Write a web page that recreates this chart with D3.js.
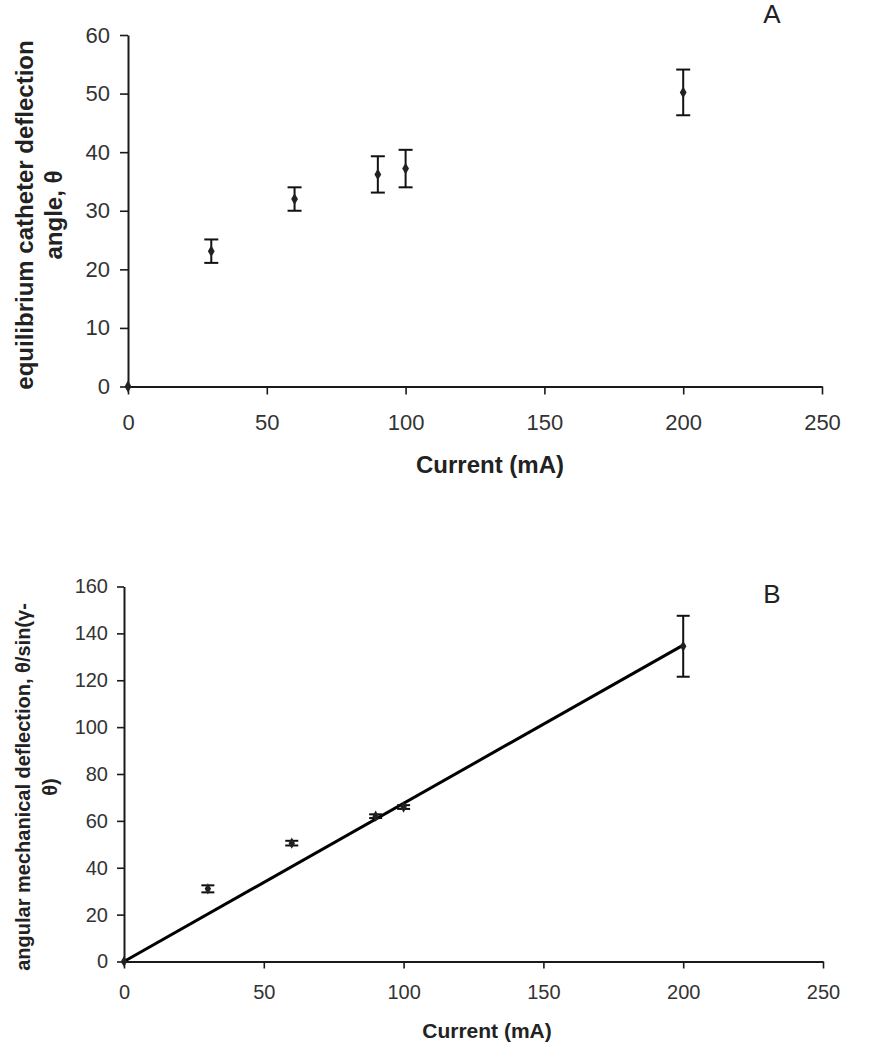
<!DOCTYPE html>
<html>
<head>
<meta charset="utf-8">
<script src="https://cdn.jsdelivr.net/npm/d3@7/dist/d3.min.js"></script>
<style>
  html, body { margin: 0; padding: 0; background: #fff; }
  svg { display: block; font-family: "Liberation Sans", Arial, sans-serif; }
</style>
</head>
<body>
<svg id="chart" width="884" height="1050"></svg>
<script>
// ---- Data: panel A ----
const currentA = [0, 30, 60, 90, 100, 200];
const angleA = [0, 23.1, 32.0, 36.2, 37.2, 50.2];
const angleErrA = [0, 2.0, 2.0, 3.1, 3.2, 3.9];
const xTicksA = [0, 50, 100, 150, 200, 250];
const yTicksA = [0, 10, 20, 30, 40, 50, 60];

// ---- Data: panel B ----
const currentB = [0, 30, 60, 90, 100, 200];
const deflB = [0, 31.0, 50.5, 62.0, 65.9, 134.5];
const deflErrB = [0, 1.5, 1.0, 0.8, 0.8, 13.0];
const trendSlopeB = 0.675;
const trendRangeB = [0, 200];
const xTicksB = [0, 50, 100, 150, 200, 250];
const yTicksB = [0, 20, 40, 60, 80, 100, 120, 140, 160];

const svg = d3.select("#chart");
const axisColor = "#1a1a1a";
const labelColor = "#333";

function drawPanel(cfg) {
  const g = svg.append("g");
  const x = d3.scaleLinear().domain([0, 250]).range(cfg.xRange);
  const y = d3.scaleLinear().domain(cfg.yDomain).range(cfg.yRange);

  // axes
  const yAxis = d3.axisLeft(y).tickValues(cfg.yTicks).tickSize(cfg.tick).tickSizeOuter(0).tickPadding(cfg.yPad);
  const xAxis = d3.axisBottom(x).tickValues(cfg.xTicks).tickSize(cfg.tick).tickSizeOuter(0).tickPadding(cfg.xPad);

  const gy = g.append("g").attr("transform", `translate(${cfg.xRange[0]},0)`).call(yAxis);
  const gx = g.append("g").attr("transform", `translate(0,${cfg.yRange[0]})`).call(xAxis);
  [gx, gy].forEach(a => {
    a.select(".domain").attr("stroke", axisColor).attr("stroke-width", 2);
    a.selectAll(".tick line").attr("stroke", axisColor).attr("stroke-width", 1.6);
    a.selectAll(".tick text").attr("fill", labelColor).attr("font-size", cfg.tickFont)
      .attr("font-family", '"Liberation Sans", Arial, sans-serif');
  });

  // trend line
  if (cfg.trend) {
    g.append("line")
      .attr("x1", x(cfg.trend.range[0])).attr("y1", y(cfg.trend.range[0] * cfg.trend.slope))
      .attr("x2", x(cfg.trend.range[1])).attr("y2", y(cfg.trend.range[1] * cfg.trend.slope))
      .attr("stroke", "#000").attr("stroke-width", 3);
  }

  // error bars
  const pts = cfg.xs.map((v, i) => ({ x: v, y: cfg.ys[i], e: cfg.errs[i] }));
  const eb = g.append("g").selectAll("g").data(pts.filter(d => d.e > 0)).join("g");
  eb.append("line")
    .attr("x1", d => x(d.x)).attr("x2", d => x(d.x))
    .attr("y1", d => y(d.y - d.e)).attr("y2", d => y(d.y + d.e))
    .attr("stroke", "#111").attr("stroke-width", 2);
  [-1, 1].forEach(s => {
    eb.append("line")
      .attr("x1", d => x(d.x) - cfg.cap).attr("x2", d => x(d.x) + cfg.cap)
      .attr("y1", d => y(d.y + s * d.e)).attr("y2", d => y(d.y + s * d.e))
      .attr("stroke", "#111").attr("stroke-width", 2);
  });

  // diamond markers
  const diamond = d3.symbol().type(d3.symbolDiamond).size(cfg.marker);
  g.append("g").selectAll("path").data(pts).join("path")
    .attr("d", diamond)
    .attr("transform", d => `translate(${x(d.x)},${y(d.y)})`)
    .attr("fill", "#222");

  // x title
  g.append("text").attr("x", cfg.xTitlePos[0]).attr("y", cfg.xTitlePos[1])
    .attr("text-anchor", "middle").attr("font-weight", "bold").attr("font-size", cfg.xTitleFont)
    .attr("fill", "#222").text("Current (mA)");

  // y title (two lines, rotated)
  cfg.yTitle.forEach((t, i) => {
    g.append("text")
      .attr("transform", `translate(${cfg.yTitleX[i]},${cfg.yTitleY}) rotate(-90)`)
      .attr("text-anchor", "middle").attr("font-weight", "bold").attr("font-size", cfg.yTitleFont)
      .attr("fill", "#222").text(t);
  });

  // panel letter
  g.append("text").attr("x", cfg.letterPos[0]).attr("y", cfg.letterPos[1])
    .attr("text-anchor", "middle").attr("font-size", cfg.letterFont).attr("fill", "#222")
    .text(cfg.letter);
}

drawPanel({
  xRange: [128, 822], yDomain: [0, 60], yRange: [386.5, 35],
  xTicks: xTicksA, yTicks: yTicksA, tick: 8, yPad: 10, xPad: 20, tickFont: 22,
  xs: currentA, ys: angleA, errs: angleErrA, cap: 7, marker: 40,
  xTitlePos: [490, 473], xTitleFont: 24,
  yTitle: ["equilibrium catheter deflection", "angle, \u03b8"],
  yTitleX: [33, 62], yTitleY: 215, yTitleFont: 24,
  letter: "A", letterPos: [772, 23], letterFont: 26
});

drawPanel({
  xRange: [124, 823], yDomain: [0, 160], yRange: [961.5, 586.5],
  xTicks: xTicksB, yTicks: yTicksB, tick: 7, yPad: 9, xPad: 16, tickFont: 20,
  xs: currentB, ys: deflB, errs: deflErrB, cap: 6.5, marker: 36,
  trend: { slope: trendSlopeB, range: trendRangeB },
  xTitlePos: [487, 1038], xTitleFont: 21,
  yTitle: ["angular mechanical deflection, \u03b8/sin(\u03b3-", "\u03b8)"],
  yTitleX: [30, 57], yTitleY: 787, yTitleFont: 20,
  letter: "B", letterPos: [772, 603], letterFont: 26
});
</script>
</body>
</html>
